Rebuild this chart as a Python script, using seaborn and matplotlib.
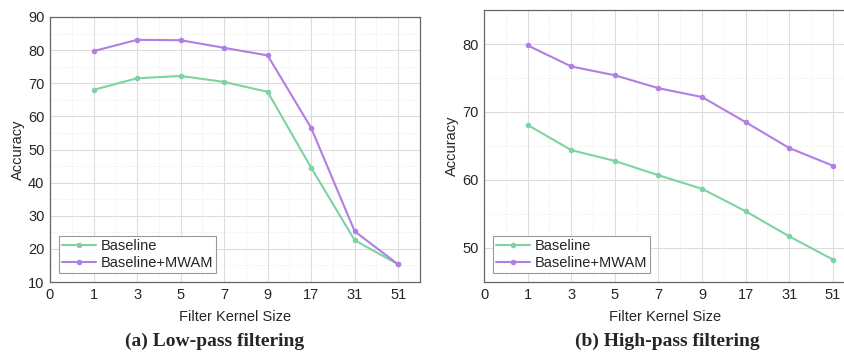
import numpy as np
import pandas as pd
import seaborn as sns
import matplotlib.pyplot as plt
from matplotlib.ticker import MultipleLocator

# ---------------------------------------------------------------------
# Data
# ---------------------------------------------------------------------
kernel_sizes = ["1", "3", "5", "7", "9", "17", "31", "51"]

low_baseline = [68.0, 71.5, 72.2, 70.4, 67.4, 44.5, 22.6, 15.3]
low_mwam     = [79.7, 83.1, 83.0, 80.7, 78.4, 56.5, 25.3, 15.3]

high_baseline = [68.1, 64.4, 62.8, 60.7, 58.7, 55.4, 51.7, 48.3]
high_mwam     = [79.8, 76.7, 75.4, 73.5, 72.2, 68.5, 64.7, 62.1]

series_names = ["Baseline", "Baseline+MWAM"]
palette = {"Baseline": "#7dd3a2", "Baseline+MWAM": "#b17fe3"}


def to_long(base, mwam):
    pos = np.arange(1, len(kernel_sizes) + 1)
    df = pd.concat([
        pd.DataFrame({"pos": pos, "acc": base, "method": series_names[0]}),
        pd.DataFrame({"pos": pos, "acc": mwam, "method": series_names[1]}),
    ])
    return df


sns.set_style("white")
plt.rcParams["font.family"] = ["Liberation Sans", "DejaVu Sans"]

fig = plt.figure(figsize=(8.44, 3.58), dpi=100)
ax_l = fig.add_axes([50 / 844, 76 / 358, 370 / 844, 265 / 358])
ax_r = fig.add_axes([484 / 844, 76 / 358, 362 / 844, 272 / 358])


def style_axis(ax, df, ylim, ymajor, xmax):
    sns.lineplot(data=df, x="pos", y="acc", hue="method", palette=palette,
                 marker="o", markersize=4, markeredgewidth=0, linewidth=1.5,
                 ax=ax)
    ax.set_xlim(0, xmax)
    ax.set_ylim(*ylim)
    ax.set_xticks(np.arange(0, len(kernel_sizes) + 1))
    ax.set_xticklabels(["0"] + kernel_sizes)
    ax.xaxis.set_minor_locator(MultipleLocator(0.5))
    ax.yaxis.set_major_locator(MultipleLocator(ymajor))
    ax.yaxis.set_minor_locator(MultipleLocator(ymajor / 2))
    ax.grid(which="major", color="#dddddd", linewidth=0.8)
    ax.grid(which="minor", color="#e6e6e6", linewidth=0.6, linestyle=":")
    ax.set_axisbelow(True)
    for s in ax.spines.values():
        s.set_color("#666666")
        s.set_linewidth(0.9)
    ax.tick_params(which="both", length=0, labelsize=10.5, pad=4)
    ax.set_xlabel("Filter Kernel Size", fontsize=10.5, labelpad=6)
    ax.set_ylabel("Accuracy", fontsize=10.5, labelpad=2)
    leg = ax.legend(loc="lower left", fontsize=10.5, frameon=True, fancybox=False,
                    edgecolor="#999999", framealpha=1, handlelength=2.3,
                    handletextpad=0.3, borderpad=0.25, labelspacing=0.15,
                    borderaxespad=0.6)
    leg.get_frame().set_linewidth(0.8)


style_axis(ax_l, to_long(low_baseline, low_mwam), (10, 90), 10, 8.5)
style_axis(ax_r, to_long(high_baseline, high_mwam), (45, 85), 10, 8.3)
ax_r.set_yticks([50, 60, 70, 80])

fig.text(215 / 844, 1 - 341 / 358, "(a) Low-pass filtering", ha="center", va="center",
         fontsize=14, fontweight="bold", family=["Liberation Serif", "DejaVu Serif"])
fig.text(667 / 844, 1 - 341 / 358, "(b) High-pass filtering", ha="center", va="center",
         fontsize=14, fontweight="bold", family=["Liberation Serif", "DejaVu Serif"])

fig.savefig("out.png", dpi=100)
